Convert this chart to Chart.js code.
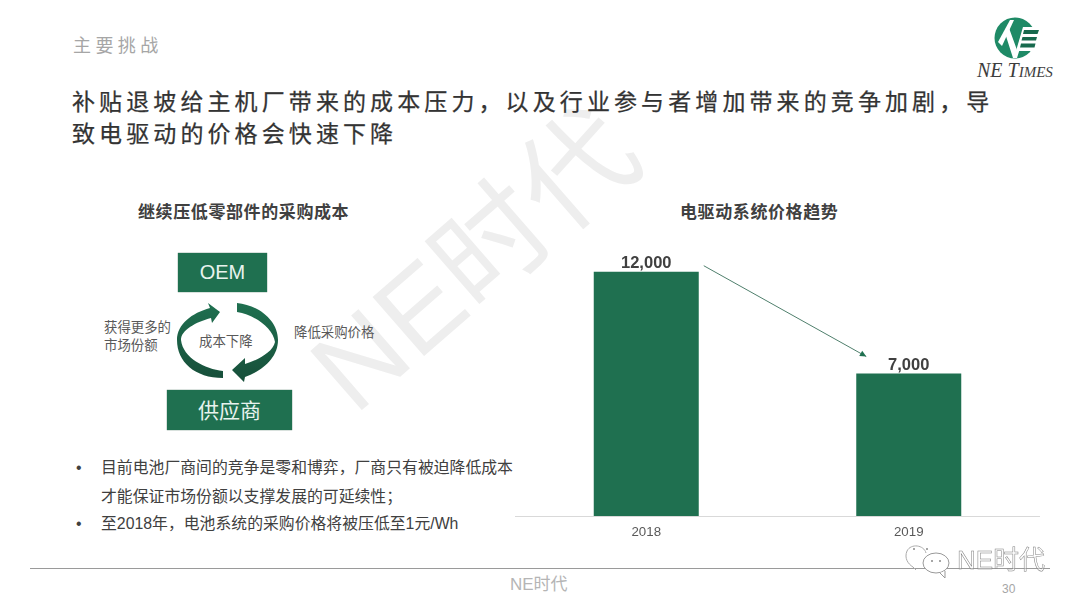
<!DOCTYPE html>
<html lang="zh">
<head>
<meta charset="utf-8">
<title>主要挑战</title>
<script src="https://cdn.jsdelivr.net/npm/chart.js@4/dist/chart.umd.min.js"></script>
<style>
  html, body { margin: 0; padding: 0; background: #fff; }
  #slide { position: relative; width: 1080px; height: 608px; overflow: hidden; font-family: "Liberation Sans", "Noto Sans CJK SC", sans-serif; }
  #slide > div { position: absolute; white-space: nowrap; }
  .serif { font-family: "Liberation Serif", "Noto Sans CJK SC", serif; }
  .watermark { left: 475px; top: 260px; transform: translate(-50%, -50%) rotate(-41deg); font-size: 114px; color: #eeeeee; font-weight: 400; line-height: 1; }
  .kicker { left: 73px; top: 34px; font-size: 18px; letter-spacing: 4.4px; color: #a6a6a6; line-height: 24px; }
  .headline { left: 72px; top: 86px; font-size: 23px; letter-spacing: 4.1px; color: #333333; line-height: 32px; font-weight: 400; -webkit-text-stroke: .25px #333333; }
  .section { font-size: 17px; font-weight: 700; color: #404040; line-height: 24px; letter-spacing: .6px; }
  .box { background: #1f7050; color: #e8f3ee; text-align: center; box-shadow: 0 0 1px #184f39; }
  .note { font-size: 13.4px; color: #595959; line-height: 18px; }
  .bullet { font-size: 15.85px; color: #404040; line-height: 22px; }
  #chartWrap { left: 515px; top: 231px; width: 525px; height: 320px; }
  .footline { left: 30px; top: 568px; width: 1020px; height: 1px; background: #9a9a9a; }
  .outline { color: rgba(255,255,255,0.4); -webkit-text-stroke: .5px #808080; }
</style>
</head>
<body>
<div id="slide">
  <div class="watermark">NE时代</div>
  <div class="kicker">主要挑战</div>
  <div class="headline">补贴退坡给主机厂带来的成本压力，以及行业参与者增加带来的竞争加剧，导<br>致电驱动的价格会快速下降</div>

  <svg style="position:absolute;left:990px;top:10px" width="60" height="55" viewBox="990 10 60 55">
    <circle cx="1015" cy="38" r="20.5" fill="#1f8a66"/>
    <path d="M998 42 L1010 20 L1014 20 L1002 46 Z" fill="#fff"/>
    <path d="M1005 33 L1009 28 L1017 50 L1023 29 L1026 29 L1017 58 L1013 58 Z" fill="#fff"/>
    <path d="M1023 27 H1042 L1036 51 H1016 Z" fill="#fff"/>
    <path d="M1024 30 H1039 L1037.5 34 H1023 Z M1022.5 37 H1037 L1036 40.5 H1021.5 Z M1021 43.5 H1035.5 L1034.5 47.5 H1020 Z" fill="#17694d"/>
  </svg>
  <div class="serif" style="left:977px;top:60px;font-size:20px;font-style:italic;color:#3d3d3d;line-height:20px">NE T<span style="font-size:15px">IMES</span></div>

  <div class="section" style="left:138px;top:201px">继续压低零部件的采购成本</div>
  <div class="section" style="left:680px;top:201px">电驱动系统价格趋势</div>

  <div class="box" style="left:178px;top:253px;width:89px;height:39px;font-size:20px;line-height:39px">OEM</div>
  <div class="box" style="left:167px;top:390px;width:125px;height:40px;font-size:21px;line-height:41px">供应商</div>
  <svg style="position:absolute;left:170px;top:295px" width="115" height="95" viewBox="170 295 115 95">
    <defs>
      <linearGradient id="arrowFill" x1="0" y1="0" x2="0" y2="1">
        <stop offset="0" stop-color="#1f7050"/><stop offset="1" stop-color="#174f3a"/>
      </linearGradient>
    </defs>
    <path d="M223 378 C195 378 177 362 177 340 C177 324 192 313 210 308 L208 303 L220 312 L212 323 L211 318 C196 322 181 330 181 340 C183 358 205 369 223 371 Z" fill="url(#arrowFill)"/>
    <path d="M237 303 C258 305 278 320 278 340 C278 358 262 371 245 377 L244 382 L232 370 L245 358 L245 364 C258 360 273 352 275 342 C273 328 255 315 237 312 Z" fill="url(#arrowFill)"/>
  </svg>
  <div class="note" style="left:104px;top:319px">获得更多的<br>市场份额</div>
  <div class="note" style="left:294px;top:324px">降低采购价格</div>
  <div class="note" style="left:199px;top:333px">成本下降</div>

  <div class="bullet" style="left:76px;top:457px">•</div>
  <div class="bullet" style="left:101px;top:457px">目前电池厂商间的竞争是零和博弈，厂商只有被迫降低成本</div>
  <div class="bullet" style="left:101px;top:486px">才能保证市场份额以支撑发展的可延续性；</div>
  <div class="bullet" style="left:76px;top:513px">•</div>
  <div class="bullet" style="left:101px;top:513px">至2018年，电池系统的采购价格将被压低至1元/Wh</div>

  <div id="chartWrap"><canvas id="priceChart" width="525" height="320"></canvas></div>

  <div class="footline"></div>
  <div style="left:510px;top:575px;font-size:17px;color:#b5b5b5;line-height:20px">NE时代</div>
  <div style="left:1002px;top:581px;font-size:12px;color:#a6a6a6;line-height:16px">30</div>

  <svg style="position:absolute;left:900px;top:540px" width="55" height="42" viewBox="900 540 55 42">
    <path d="M926 553 C924 545 911 543 907 551 C904 558 908 564 913 567 L916 570" fill="none" stroke="#aaa" stroke-width="1"/>
    <ellipse cx="936" cy="563" rx="13" ry="10" fill="#fff" stroke="#999" stroke-width="1"/>
    <path d="M940 573 L945 578 L945 571" fill="#fff" stroke="#999" stroke-width="1"/>
    <circle cx="932" cy="561" r="1" fill="#888"/><circle cx="940" cy="561" r="1" fill="#888"/>
    <circle cx="914" cy="549" r="1" fill="#888"/><circle cx="927" cy="549" r="1" fill="#888"/>
  </svg>
  <div class="outline" style="left:957px;top:545px;font-size:26px;line-height:30px">NE时代</div>
</div>

<script>
// 数据
const years = ['2018', '2019'];
const prices = [12000, 7000];

const barColor = '#1f7050';

// 柱顶数值
const valueLabels = {
  id: 'valueLabels',
  afterDatasetsDraw(chart) {
    const ctx = chart.ctx;
    const bars = chart.getDatasetMeta(0).data;
    ctx.save();
    ctx.font = "700 16.5px 'Liberation Sans'";
    ctx.fillStyle = '#404040';
    ctx.textAlign = 'center';
    ctx.textBaseline = 'bottom';
    bars.forEach(function(bar, i) {
      ctx.fillText(prices[i].toLocaleString('en-US'), bar.x, bar.y);
    });
    ctx.restore();
  }
};

// 两柱之间的下降箭头
const trendArrow = {
  id: 'trendArrow',
  afterDatasetsDraw(chart) {
    const ctx = chart.ctx;
    const bars = chart.getDatasetMeta(0).data;
    const x1 = bars[0].x + bars[0].width / 2 + 5, y1 = bars[0].y - 6;
    const x2 = bars[1].x - bars[1].width / 2 + 10, y2 = bars[1].y - 17;
    const a = Math.atan2(y2 - y1, x2 - x1);
    ctx.save();
    ctx.strokeStyle = '#4f7f6c';
    ctx.fillStyle = barColor;
    ctx.lineWidth = 1;
    ctx.beginPath();
    ctx.moveTo(x1, y1);
    ctx.lineTo(x2, y2);
    ctx.stroke();
    ctx.beginPath();
    ctx.moveTo(x2, y2);
    ctx.lineTo(x2 - 7 * Math.cos(a - 0.45), y2 - 7 * Math.sin(a - 0.45));
    ctx.lineTo(x2 - 7 * Math.cos(a + 0.45), y2 - 7 * Math.sin(a + 0.45));
    ctx.closePath();
    ctx.fill();
    ctx.restore();
  }
};

new Chart(document.getElementById('priceChart').getContext('2d'), {
  type: 'bar',
  data: {
    labels: years,
    datasets: [{
      data: prices,
      backgroundColor: barColor,
      borderWidth: 0,
      barPercentage: 0.4,
      categoryPercentage: 1
    }]
  },
  options: {
    responsive: false,
    animation: false,
    layout: { padding: 0 },
    plugins: { legend: { display: false }, tooltip: { enabled: false } },
    scales: {
      x: {
        grid: { display: false },
        border: { color: '#d9d9d9', width: 1 },
        ticks: { color: '#595959', padding: 0, maxRotation: 0, font: { family: "'Liberation Sans'", size: 13.3 } },
        afterFit(scale) { scale.height = 35; }
      },
      y: { display: false, min: 0, max: 14000 }
    }
  },
  plugins: [valueLabels, trendArrow]
});
</script>
</body>
</html>
